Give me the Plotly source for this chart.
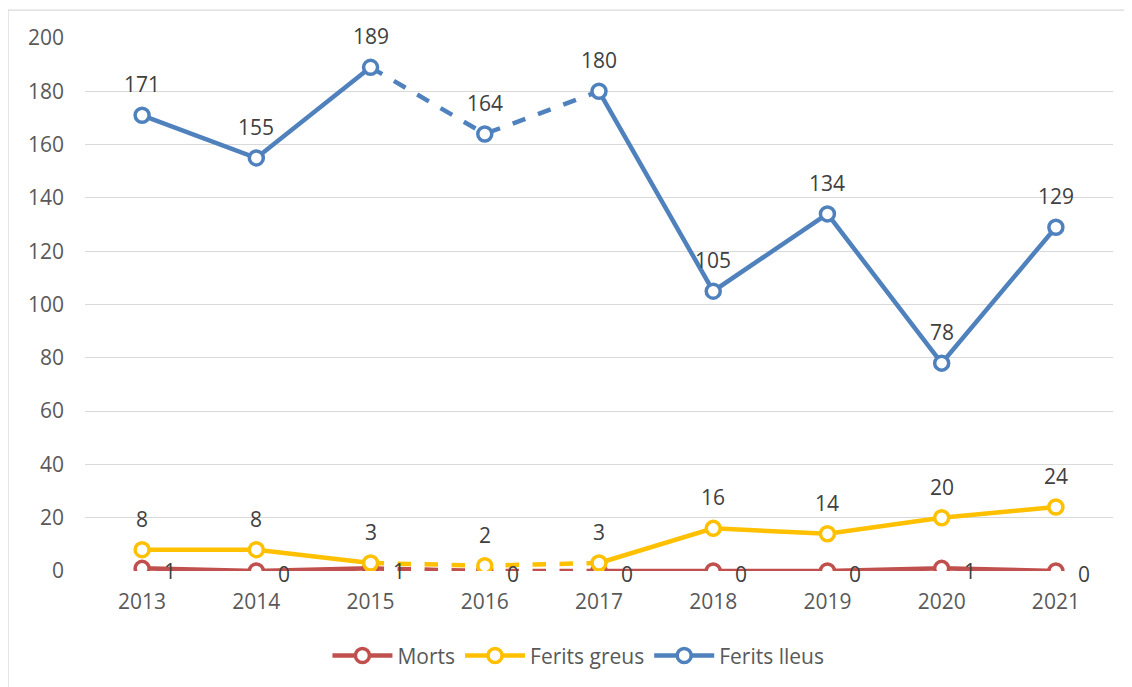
import plotly.graph_objects as go

years = ["2013", "2014", "2015", "2016", "2017", "2018", "2019", "2020", "2021"]
morts = [1, 0, 1, 0, 0, 0, 0, 1, 0]
ferits_greus = [8, 8, 3, 2, 3, 16, 14, 20, 24]
ferits_lleus = [171, 155, 189, 164, 180, 105, 134, 78, 129]

# dashed segment between these category indices
dash_start, dash_end = 2, 4

series = [
    ("Morts", morts, "#C0504D", "right"),
    ("Ferits greus", ferits_greus, "#FFC000", "top"),
    ("Ferits lleus", ferits_lleus, "#4F81BD", "top"),
]

xi = list(range(len(years)))
fig = go.Figure()
annotations = []
font_family = "Open Sans, Noto Sans, sans-serif"
FS = 21

for name, vals, color, pos in series:
    seg_sets = [
        (list(range(0, dash_start + 1)), "solid"),
        (list(range(dash_start, dash_end + 1)), "dash"),
        (list(range(dash_end, len(years))), "solid"),
    ]
    for idx, dash in seg_sets:
        fig.add_trace(go.Scatter(
            x=[xi[i] for i in idx], y=[vals[i] for i in idx],
            mode="lines", showlegend=False,
            line=dict(color=color, width=4.5, dash=dash), hoverinfo="skip",
        ))
    fig.add_trace(go.Scatter(
        x=xi, y=vals, mode="markers", showlegend=False,
        marker=dict(symbol="circle", size=14, color="white", line=dict(color=color, width=3.5)),
    ))
    for i, v in zip(xi, vals):
        if pos == "top":
            annotations.append(dict(x=i, y=v, xref="x", yref="y", text=str(v), showarrow=False,
                                    yshift=31, font=dict(size=FS, color="#404040", family=font_family)))
        else:
            annotations.append(dict(x=i, y=v, xref="x", yref="y", text=str(v), showarrow=False,
                                    xshift=28, yshift=-3, font=dict(size=FS, color="#404040", family=font_family)))

# legend entries with line + marker
for name, vals, color, pos in series:
    fig.add_trace(go.Scatter(
        x=[None], y=[None], mode="lines+markers", name=name,
        line=dict(color=color, width=4.5),
        marker=dict(symbol="circle", size=14, color="white", line=dict(color=color, width=3.5)),
        showlegend=True,
    ))

fig.update_layout(
    width=1124, height=679,
    margin=dict(l=77, r=19, t=30, b=115),
    paper_bgcolor="white", plot_bgcolor="white",
    font=dict(family=font_family, color="#595959", size=FS),
    annotations=annotations,
    showlegend=True,
    legend=dict(orientation="h", x=0.48, xanchor="center", y=-0.157, yanchor="middle",
                font=dict(size=FS, color="#595959"), bgcolor="rgba(0,0,0,0)", itemwidth=60),
    shapes=[dict(type="rect", xref="paper", yref="paper", x0=-0.0749, x1=1.03, y0=-0.24, y1=1.0524,
                 line=dict(color="#D9D9D9", width=1.3), fillcolor="rgba(0,0,0,0)", layer="below")],
)
fig.update_xaxes(range=[-0.5, 8.5], tickvals=xi, ticktext=years, showgrid=False, showline=False,
                 zeroline=False, ticks="", ticklabelstandoff=16,
                 tickfont=dict(size=FS, color="#595959"))
fig.update_yaxes(range=[0, 200], dtick=20, showgrid=True, gridcolor="#D9D9D9", gridwidth=1.3,
                 zeroline=False, showline=False, ticks="", ticklabelstandoff=20,
                 tickfont=dict(size=FS, color="#595959"))

fig.write_html("out.html")
